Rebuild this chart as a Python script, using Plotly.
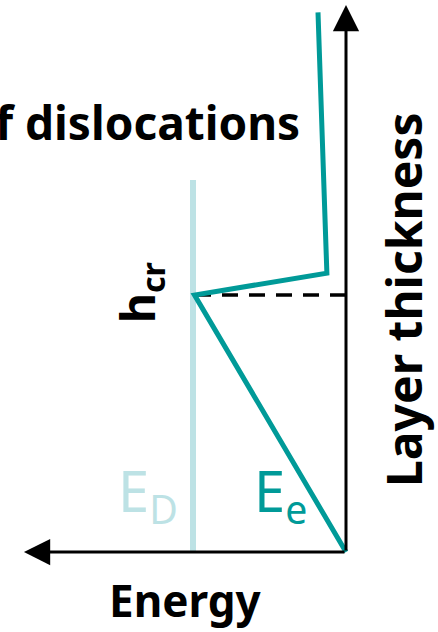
import plotly.graph_objects as go

# Energy runs to the left, layer thickness upward; both in units of E_D and h_cr.
dislocation_energy = [1.0, 1.0]
dislocation_thickness = [0.0, 1.447]

elastic_energy = [0.0, 0.99, 0.125, 0.183]
elastic_thickness = [0.0, 1.0, 1.085, 2.10]

critical_energy = [0.0, 0.99]
critical_thickness = [1.0, 1.0]

axis_tip_energy = 2.105
axis_tip_thickness = 2.128

W, H = 438, 632
ORIGIN_X, ORIGIN_Y = 346, 552      # pixel position of the axes' corner
SX, SY = 153, 257                  # pixels per unit of energy / thickness

TEAL = "#009a98"
LIGHT_TEAL = "#bde2e5"
FONT = "Noto Sans"


def paper(px, py):
    return px / W, 1 - py / H


fig = go.Figure()

fig.add_trace(go.Scatter(
    x=dislocation_energy, y=dislocation_thickness, mode="lines",
    line=dict(color=LIGHT_TEAL, width=6), hoverinfo="skip"))

fig.add_trace(go.Scatter(
    x=critical_energy, y=critical_thickness, mode="lines",
    line=dict(color="black", width=3.6, dash="16px,11px"), hoverinfo="skip"))

fig.add_trace(go.Scatter(
    x=elastic_energy, y=elastic_thickness, mode="lines",
    line=dict(color=TEAL, width=5), hoverinfo="skip"))

arrow = dict(showarrow=True, text="", arrowhead=2, arrowsize=1.75,
             arrowwidth=3, arrowcolor="black", standoff=0,
             axref="x", ayref="y", xref="x", yref="y")
annotations = [
    dict(x=0, y=axis_tip_thickness, ax=0, ay=0, **arrow),
    dict(x=axis_tip_energy, y=0, ax=0, ay=0, **arrow),
]


def label(text, px, py, size, color="black", weight="bold", angle=0,
          xanchor="center"):
    x, y = paper(px, py)
    return dict(x=x, y=y, xref="paper", yref="paper", text=text,
                showarrow=False, textangle=angle, xanchor=xanchor,
                yanchor="middle",
                font=dict(family=FONT, size=size, color=color, weight=weight))


annotations += [
    label("Energy", 185, 600, 44),
    label("Layer thickness", 403, 300, 48, angle=-90),
    label("h<sub>cr</sub>", 140, 293, 46, angle=-90),
    label("Energy of dislocations", 302, 122, 46, xanchor="right"),
    label("E<sub>D</sub>", 148, 494, 56, color=LIGHT_TEAL, weight="normal"),
    label("E<sub>e</sub>", 280, 494, 56, color=TEAL, weight="normal"),
]

fig.update_layout(
    width=W, height=H,
    margin=dict(l=0, r=0, t=0, b=0),
    paper_bgcolor="white", plot_bgcolor="white",
    showlegend=False,
    xaxis=dict(range=[ORIGIN_X / SX, (ORIGIN_X - W) / SX], visible=False,
               fixedrange=True),
    yaxis=dict(range=[(ORIGIN_Y - H) / SY, ORIGIN_Y / SY], visible=False,
               fixedrange=True),
    annotations=annotations,
)

fig.write_html("out.html", config={"displayModeBar": False})
